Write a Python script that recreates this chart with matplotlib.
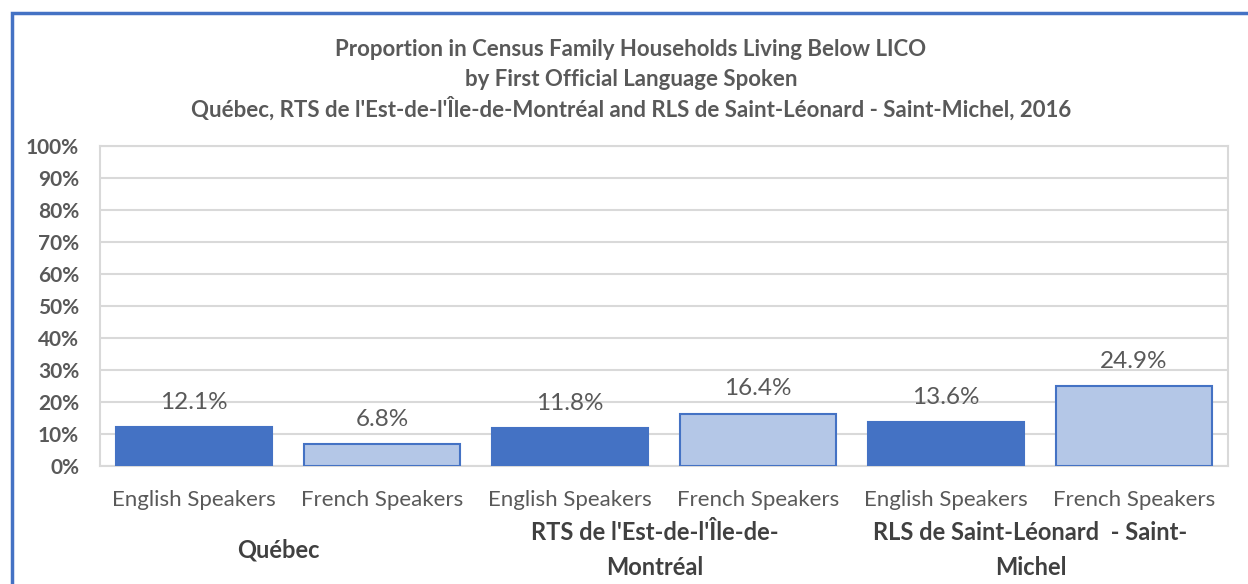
import matplotlib.pyplot as plt
from matplotlib.patches import Rectangle
from matplotlib.ticker import PercentFormatter

# data
bar_labels = ['English Speakers', 'French Speakers'] * 3
groups = ["Québec", "RTS de l'Est-de-l'Île-de-\nMontréal", "RLS de Saint-Léonard  - Saint-\nMichel"]
values = [12.1, 6.8, 11.8, 16.4, 13.6, 24.9]

dark = '#4472C4'
light = '#B4C7E7'
grey = '#595959'

plt.rcParams['font.family'] = ['Lato', 'DejaVu Sans']

fig = plt.figure(figsize=(12.48, 5.84), dpi=100)
ax = fig.add_axes([100 / 1248, 118 / 584, 1128 / 1248, 320 / 584])

x = list(range(len(values)))
colors = [dark if i % 2 == 0 else light for i in x]
bars = ax.bar(x, values, width=0.83, color=colors, edgecolor=dark, linewidth=1.5, zorder=3)

for xi, v in zip(x, values):
    ax.annotate(f'{v:.1f}%', (xi, v), xytext=(0, 18), textcoords='offset points',
                ha='center', va='center', fontsize=17.5, color=grey, zorder=4)

ax.set_ylim(0, 100)
ax.set_xlim(-0.5, 5.5)
ax.set_yticks(range(0, 101, 10))
ax.yaxis.set_major_formatter(PercentFormatter(decimals=0))
ax.grid(axis='y', color='#D9D9D9', linewidth=1.5, zorder=0)
for s in ax.spines.values():
    s.set_color('#D9D9D9')
    s.set_linewidth(1.5)
ax.tick_params(axis='y', length=0, labelsize=15, labelcolor=grey, pad=15)
for t in ax.get_yticklabels():
    t.set_fontweight('bold')
ax.set_xticks(x)
ax.set_xticklabels(bar_labels, fontsize=16, color=grey)
ax.tick_params(axis='x', length=0, pad=17)

# group labels under the bar labels
tr = ax.get_xaxis_transform()
for g, name in enumerate(groups):
    ax.text(2 * g + 0.45, -0.262, name, transform=tr, ha='center', va='center',
            fontsize=17, fontweight='bold', color='#404040', linespacing=1.6)

fig.text(631 / 1248, 1 - 50 / 584, 'Proportion in Census Family Households Living Below LICO',
         ha='center', va='center', fontsize=16, fontweight='bold', color=grey)
fig.text(631 / 1248, 1 - 79 / 584, 'by First Official Language Spoken',
         ha='center', va='center', fontsize=16, fontweight='bold', color=grey)
fig.text(631 / 1248, 1 - 109 / 584,
         "Québec, RTS de l'Est-de-l'Île-de-Montréal and RLS de Saint-Léonard - Saint-Michel, 2016",
         ha='center', va='center', fontsize=16, fontweight='bold', color=grey)

# outer blue frame (cropped on right and bottom)
fig.patches.append(Rectangle((12 / 1248, -0.05), 1.1, 1 - 13 / 584 + 0.05,
                             transform=fig.transFigure, fill=False,
                             edgecolor=dark, linewidth=2.5))

fig.savefig('out.png', dpi=100)
